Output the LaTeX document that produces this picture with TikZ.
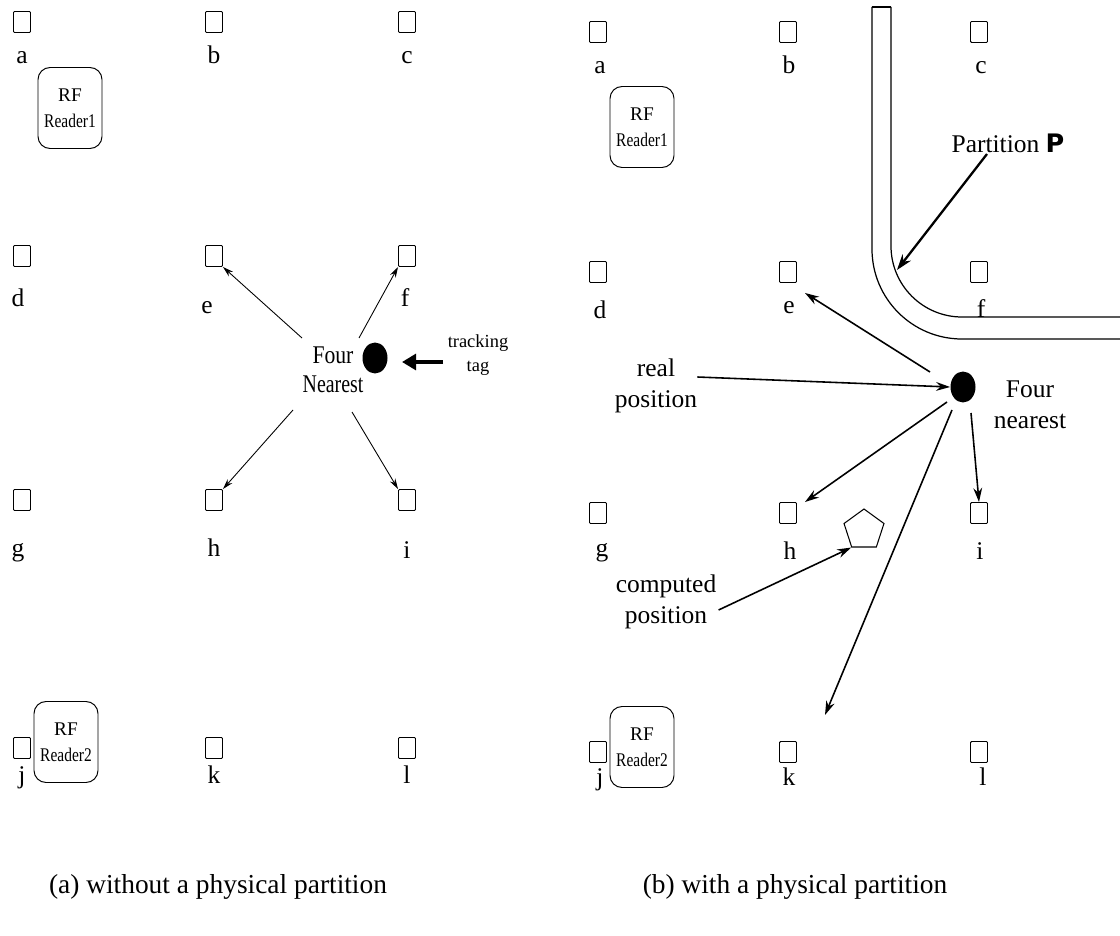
\documentclass[tikz,border=0pt]{standalone}
\usepackage{fontspec}
\usepackage{graphicx}
\setmainfont{Liberation Serif}
\newfontfamily\heavyfont{DejaVu Sans}
\usetikzlibrary{shapes.geometric,arrows.meta}

\begin{document}
\begin{tikzpicture}[x=0.02cm,y=-0.02cm,
  tagbox/.style={draw, minimum width=0.34cm, minimum height=0.42cm, inner sep=0pt, rounded corners=0.6pt, line width=0.55pt},
  lbl/.style={inner sep=0pt, anchor=base, font=\fontsize{14.5}{16}\selectfont},
  reader/.style={draw, rounded corners=0.24cm, minimum width=1.28cm, minimum height=1.62cm, inner sep=0pt, align=center, line width=0.55pt, font=\fontsize{11}{15}\selectfont},
  tagdot/.style={fill, ellipse, minimum width=0.5cm, minimum height=0.62cm, inner sep=0pt},
  note/.style={align=center, inner sep=0pt, font=\fontsize{14.5}{17.5}\selectfont},
  thinarrow/.style={-{Stealth[length=6pt,width=3.5pt]}, line width=0.5pt},
  boldarrow/.style={-{Stealth[length=8pt,width=5pt]}, line width=0.9pt},
  wall/.style={line width=0.7pt},
  caption/.style={anchor=base, font=\fontsize{15.6}{18}\selectfont}
]
\useasboundingbox (0,0) rectangle (1120,936);

% ---------- (a) without a physical partition ----------
\foreach \n/\x/\y in {a/22/22, b/214/22, c/407/22,
                      d/22/256, e/214/256, f/407/256,
                      g/22/500, h/214/500, i/407/500,
                      j/22/748, k/214/748, l/407/748}
  \node[tagbox] (L\n) at (\x,\y) {};

\node[lbl] (La-t) at (22,64) {a};
\node[lbl] (Lb-t) at (214,64) {b};
\node[lbl] (Lc-t) at (407,64) {c};
\node[lbl] (Ld-t) at (18,306) {d};
\node[lbl] (Le-t) at (207,313) {e};
\node[lbl] (Lf-t) at (405,306) {f};
\node[lbl] (Lg-t) at (18,556) {g};
\node[lbl] (Lh-t) at (214,556) {h};
\node[lbl] (Li-t) at (407,558) {i};
\node[lbl] (Lj-t) at (22,783) {j};
\node[lbl] (Lk-t) at (214,783) {k};
\node[lbl] (Ll-t) at (407,783) {l};

\node[reader] (LR1) at (70,108) {RF\\\scalebox{0.8}[1]{Reader1}};
\node[reader] (LR2) at (66,742) {RF\\\scalebox{0.8}[1]{Reader2}};

\node[tagdot] (Ldot) at (375,358) {};
\node[note, font=\fontsize{14.5}{16.5}\selectfont] (Lfour) at (333,370)
  {\scalebox{0.85}[1]{Four}\\\scalebox{0.78}[1]{Nearest}};
\node[note, font=\fontsize{10.5}{14}\selectfont] (trk) at (478,355) {tracking\\tag};

\coordinate (LeS) at (302,338);
\coordinate (LfS) at (359,338);
\coordinate (LhS) at (293,410);
\coordinate (LiS) at (352,412);
\draw[thinarrow] (LeS) -- (Le.south east);
\draw[thinarrow] (LfS) -- (Lf.south west);
\draw[thinarrow] (LhS) -- (Lh.north east);
\draw[thinarrow] (LiS) -- (Li.north west);

\coordinate (trkT) at (443,362);
\coordinate (trkH) at (402,362);
\draw[line width=2.4pt, -{Triangle[length=8pt,width=9pt]}] (trkT) -- (trkH);

\node[caption] (capA) at (218,893) {(a) without a physical partition};

% ---------- (b) with a physical partition ----------
\foreach \n/\x/\y in {a/598/32, b/788/32, c/979/32,
                      d/598/272, e/788/272, f/979/272,
                      g/598/513, h/788/513, i/979/513,
                      j/598/752, k/788/752, l/979/752}
  \node[tagbox] (R\n) at (\x,\y) {};

\node[lbl] (Ra-t) at (600,74) {a};
\node[lbl] (Rb-t) at (789,74) {b};
\node[lbl] (Rc-t) at (981,74) {c};
\node[lbl] (Rd-t) at (600,318) {d};
\node[lbl] (Re-t) at (789,314) {e};
\node[lbl] (Rf-t) at (981,317) {f};
\node[lbl] (Rg-t) at (602,556) {g};
\node[lbl] (Rh-t) at (790,559) {h};
\node[lbl] (Ri-t) at (980,559) {i};
\node[lbl] (Rj-t) at (600,785) {j};
\node[lbl] (Rk-t) at (789,785) {k};
\node[lbl] (Rl-t) at (983,785) {l};

\node[reader] (RR1) at (642,127) {RF\\\scalebox{0.8}[1]{Reader1}};
\node[reader] (RR2) at (642,747) {RF\\\scalebox{0.8}[1]{Reader2}};

% the partition wall
\draw[wall, rounded corners=1.8cm] (872,7) -- (872,339) -- (1120,339);
\draw[wall, rounded corners=1.42cm] (891,7) -- (891,317) -- (1120,317);
\draw[wall] (872,7) -- (891,7);

\node[note] (part) at (1008,143) {Partition {\heavyfont\bfseries P}};
\coordinate (partS) at (987,154);
\coordinate (partT) at (897,270);
\draw[-{Stealth[length=9pt,width=6pt]}, line width=1.3pt] (partS) -- (partT);

\node[tagdot] (Rdot) at (963,387) {};
\node[note] (Rfour) at (1030,405) {Four\\nearest};
\node[note] (real) at (656,386) {real\\position};
\node[note] (comp) at (666,602) {computed\\position};

\node[draw, regular polygon, regular polygon sides=5, minimum size=0.84cm, inner sep=0pt, line width=0.6pt] (pent) at (864,530) {};

\coordinate (ReS) at (930,372);
\coordinate (RhS) at (947,402);
\coordinate (RiS) at (971,413);
\coordinate (RkS) at (952,410);
\coordinate (RkT) at (825,715);
\draw[boldarrow] (ReS) -- ([shift={(8,10)}]Re.south east);
\draw[boldarrow] (RhS) -- ([xshift=0.16cm]Rh.north east);
\draw[boldarrow] (RiS) -- (Ri.north);
\draw[boldarrow] (RkS) -- (RkT);
\draw[boldarrow] (real.east |- 0,377) -- (Rdot.west);
\draw[boldarrow] ([shift={(2,8)}]comp.east) -- (pent.corner 3);

\node[caption] (capB) at (795,893) {(b) with a physical partition};
\end{tikzpicture}
\end{document}
